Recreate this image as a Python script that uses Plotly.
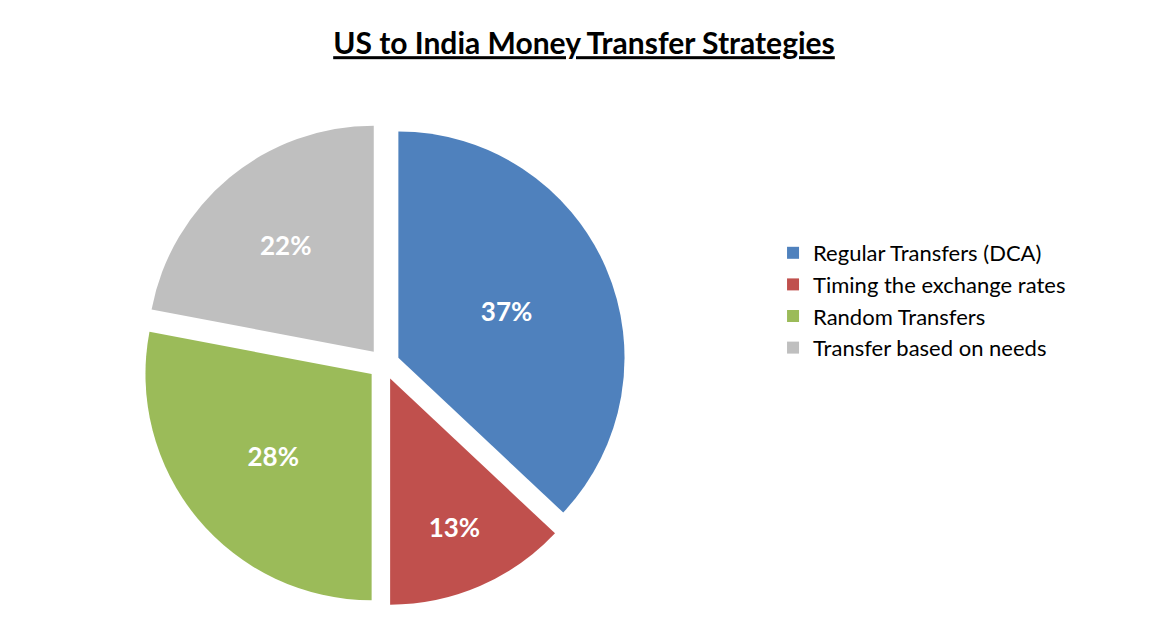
import plotly.graph_objects as go

labels = ["Regular Transfers (DCA)", "Timing the exchange rates", "Random Transfers", "Transfer based on needs"]
values = [37, 13, 28, 22]
colors = ["#4F81BD", "#C0504D", "#9BBB59", "#BFBFBF"]

fig = go.Figure()
fig.add_trace(go.Pie(
    labels=labels,
    values=values,
    sort=False,
    direction="clockwise",
    rotation=0,
    pull=[0.07, 0.07, 0.07, 0.07],
    marker=dict(colors=colors, line=dict(color="white", width=0)),
    texttemplate="<b>%{percent:.0%}</b>",
    textposition="inside",
    insidetextfont=dict(color="white", size=26, family="Lato"),
    domain=dict(x=[0.0, 0.64], y=[0.04, 0.92]),
    hoverinfo="label+percent",
))

fig.update_layout(
    title=dict(text="<b><u>US to India Money Transfer Strategies</u></b>",
               x=0.5, y=0.96, xanchor="center",
               font=dict(size=30, color="black", family="Lato")),
    legend=dict(x=0.67, y=0.72, yanchor="top",
                font=dict(size=22, color="black", family="Lato"),
                itemclick=False),
    paper_bgcolor="white",
    plot_bgcolor="white",
    width=1152, height=630,
    margin=dict(l=20, r=20, t=70, b=10),
)

fig.write_html("out.html")
